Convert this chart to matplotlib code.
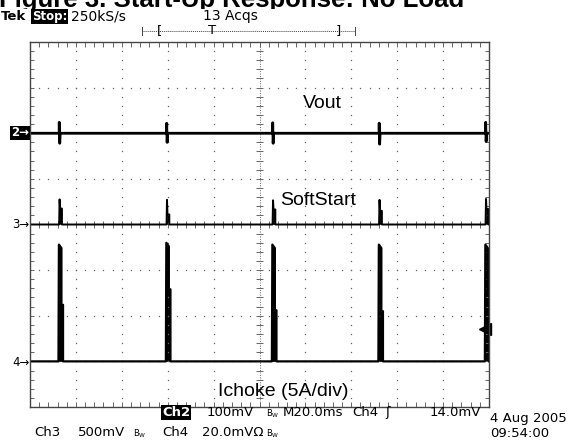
# Scope capture: start-up response, no load (Tek screen redrawn)
import numpy as np
import matplotlib
matplotlib.use('Agg')
import matplotlib.pyplot as plt

# pulse start times in ms (20 ms/div, 10 div on screen)
pulse_ms = [12.4, 59.2, 105.4, 151.8, 198.2]

# Ch2 Vout deviation, mV (100 mV/div)
vout_up_mV = [24, 22, 23, 22, 24]
vout_down_mV = [22, 20, 22, 24, 18]

# Ch3 SoftStart, mV (500 mV/div)
soft_peak_mV = [275, 270, 265, 270, 280]
soft_step_mV = [175, 110, 165, 150, 170]

# Ch4 Ichoke, A (5 A/div)
ichoke_peak_A = [12.8, 13.0, 12.8, 12.8, 12.8]
ichoke_step_A = [6.2, 7.9, 5.6, 5.5, 7.8]
trig_level_A = 3.5

# channel scale per div and ground position (div from centre)
ch2_scale, ch2_pos = 100.0, 2.0
ch3_scale, ch3_pos = 500.0, 0.0
ch4_scale, ch4_pos = 5.0, -3.0

GRAT = '#666666'

fig = plt.figure(figsize=(5.82, 4.40), dpi=100)

# title, partly hidden behind the pasted scope image
tax = fig.add_axes([0, 1 - 9 / 440, 1, 9 / 440])
tax.set_xlim(0, 582)
tax.set_ylim(9, 0)
tax.axis('off')
tax.text(-1, 7, 'Figure 3. Start-Up Response: No Load', fontsize=18.5,
         fontweight='bold', family='Liberation Sans', va='baseline', clip_on=True)

ax = fig.add_axes([30 / 582, (440 - 407) / 440, 459 / 582, 365 / 440])
ax.set_xlim(0, 200)
ax.set_ylim(-4, 4)
ax.set_xticks([])
ax.set_yticks([])
for s in ax.spines.values():
    s.set_color('#444444')
    s.set_linewidth(1.0)

# graticule
xm = np.arange(0, 200.001, 4)
ym = np.arange(-4, 4.001, 0.2)
for xv in range(20, 200, 20):
    if xv == 100:
        continue
    ax.plot(np.full(len(ym), xv), ym, ls='none', marker='s', ms=0.9, color=GRAT, mew=0)
for yv in [-3, -2, -1, 1, 2, 3]:
    ax.plot(xm, np.full(len(xm), yv), ls='none', marker='s', ms=0.9, color=GRAT, mew=0)
ax.axvline(100, ls=(0, (1, 1.5)), lw=0.7, color=GRAT)
ax.axhline(0, ls=(0, (1, 1.5)), lw=0.7, color=GRAT)
ax.hlines(ym, 100 - 1.6, 100 + 1.6, lw=0.7, color=GRAT)
ax.vlines(xm, -0.08, 0.08, lw=0.7, color=GRAT)
ax.vlines(xm, 3.9, 4, lw=0.7, color=GRAT)
ax.vlines(xm, -4, -3.9, lw=0.7, color=GRAT)
ax.hlines(ym, 0, 1.8, lw=0.7, color=GRAT)
ax.hlines(ym, 198.2, 200, lw=0.7, color=GRAT)

# Vout
t, v = [0.0], [0.0]
for t0, up, dn in zip(pulse_ms, vout_up_mV, vout_down_mV):
    t += [t0 + 0.3, t0 + 0.35, t0 + 0.55, t0 + 0.75]
    v += [0, up, -dn, 0]
t.append(200)
v.append(0)
ax.plot(t, ch2_pos + np.array(v) / ch2_scale, color='k', lw=2.0)

# SoftStart
t, v = [0.0], [0.0]
for t0, pk, st in zip(pulse_ms, soft_peak_mV, soft_step_mV):
    t += [t0 + 0.3, t0 + 0.5, t0 + 0.7, t0 + 1.5, t0 + 1.5]
    v += [0, pk, st, st, 0]
t.append(200)
v.append(0)
y3 = ch3_pos + np.array(v) / ch3_scale
ax.fill_between(t, ch3_pos, y3, color='k', lw=0)
ax.plot(t, y3, color='k', lw=1.4)

# Ichoke
t, v = [0.0], [0.0]
for t0, pk, st in zip(pulse_ms, ichoke_peak_A, ichoke_step_A):
    t += [t0, t0 + 0.2, t0 + 1.3, t0 + 1.3, t0 + 2.0, t0 + 2.0]
    v += [0, pk, pk * 0.97, st, st, 0]
t.append(200)
v.append(0)
y4 = ch4_pos + np.array(v) / ch4_scale
ax.fill_between(t, ch4_pos, y4, color='k', lw=0)
ax.plot(t, y4, color='k', lw=1.6)

# trigger level marker on right edge
ax.plot([198.2], [ch4_pos + trig_level_A / ch4_scale], marker='<', ms=8,
        color='k', clip_on=False)

# overlay in pixel coordinates for the screen texts
ov = fig.add_axes([0, 0, 1, 1])
ov.set_xlim(0, 582)
ov.set_ylim(440, 0)
ov.axis('off')
ov.patch.set_alpha(0)

ov.text(1, 20, 'Tek', fontsize=9.5, fontweight='bold', va='baseline')
ov.text(32, 20, 'Stop:', fontsize=8.5, fontweight='bold', color='w', va='baseline',
        bbox=dict(fc='k', ec='none', pad=0.6))
ov.text(71, 20, '250kS/s', fontsize=10, va='baseline')
ov.text(203, 20, '13 Acqs', fontsize=10, va='baseline')

ov.plot([142, 355], [31, 31], color='#444444', lw=0.7, ls=(0, (1, 1)))
ov.plot([142, 142], [27, 35], color='#444444', lw=0.7)
ov.plot([355, 355], [27, 35], color='#444444', lw=0.7)
ov.text(160, 31, '[', fontsize=9.5, va='center', ha='center')
ov.text(212, 31, 'T', fontsize=9.5, va='center', ha='center')
ov.text(338, 31, ']', fontsize=9.5, va='center', ha='center')

# channel ground markers
ov.text(11, 133, '2\u2192', fontsize=8.5, fontweight='bold', color='w', va='center',
        bbox=dict(fc='k', ec='none', pad=0.5))
ov.text(12, 225, '3\u2192', fontsize=8.5, va='center')
ov.text(12, 362, '4\u2192', fontsize=8.5, va='center')

# trace labels
lab = dict(fontsize=14, family='Liberation Sans', va='baseline')
ov.text(303, 108, 'Vout', **lab)
ov.text(280, 205, 'SoftStart', **lab)
ov.text(218, 396, 'Ichoke (5A/div)', **lab)

# status lines
fs = 9.5
r1, r2 = 416, 436
bw = r'$\mathregular{B_W}$'
ov.text(162, r1, 'Ch2', fontsize=fs, fontweight='bold', color='w', va='baseline',
        bbox=dict(fc='k', ec='none', pad=0.6))
ov.text(207, r1, '100mV', fontsize=fs, va='baseline')
ov.text(266, r1, bw, fontsize=6, va='baseline')
ov.text(283, r1, 'M20.0ms', fontsize=fs, va='baseline')
ov.text(352, r1, 'Ch4', fontsize=fs, va='baseline')
ov.text(385, r1, '\u0283', fontsize=fs, va='baseline')
ov.text(430, r1, '14.0mV', fontsize=fs, va='baseline')
ov.text(490, 422, '4 Aug 2005', fontsize=fs, va='baseline')

ov.text(34, r2, 'Ch3', fontsize=fs, va='baseline')
ov.text(78, r2, '500mV', fontsize=fs, va='baseline')
ov.text(133, r2, bw, fontsize=6, va='baseline')
ov.text(162, r2, 'Ch4', fontsize=fs, va='baseline')
ov.text(202, r2, '20.0mV\u03a9', fontsize=fs, va='baseline')
ov.text(266, r2, bw, fontsize=6, va='baseline')
ov.text(490, 437, '09:54:00', fontsize=fs, va='baseline')

fig.savefig('out.png', dpi=100)
